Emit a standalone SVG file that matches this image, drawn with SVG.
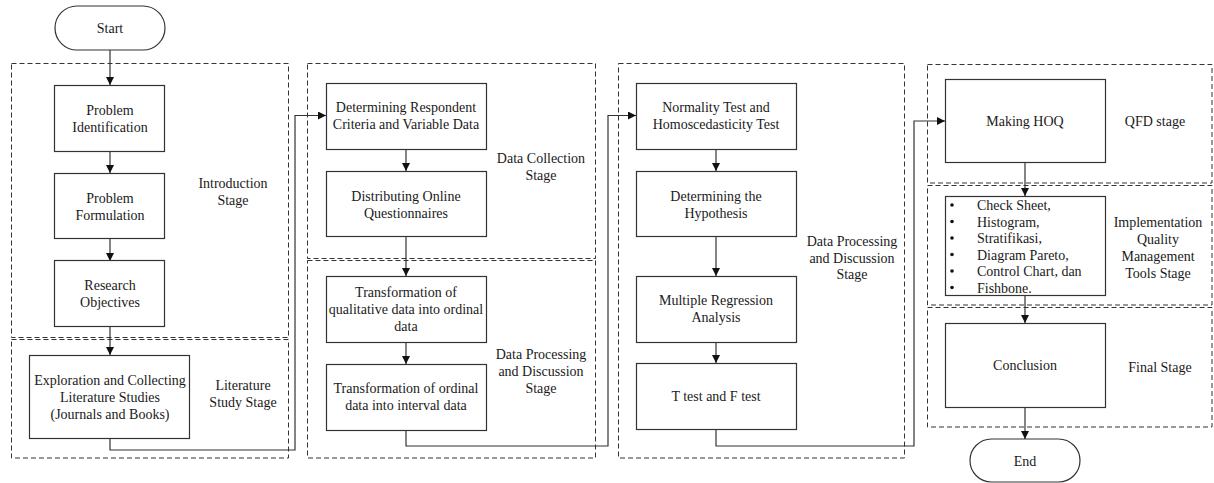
<svg xmlns="http://www.w3.org/2000/svg" width="1214" height="483" viewBox="0 0 1214 483">
<style>
text{font-family:"Liberation Serif","Times New Roman",serif;font-size:14px;fill:#1a1a1a;text-anchor:middle}
.box{fill:#fff;stroke:#333;stroke-width:1.2}
.stage{fill:none;stroke:#333;stroke-width:1;stroke-dasharray:5,3}
.con{fill:none;stroke:#333;stroke-width:1.2}
.arr{marker-end:url(#ah)}
.l{text-anchor:start}
</style>
<defs>
<marker id="ah" viewBox="0 0 10 10" refX="10" refY="5" markerWidth="8" markerHeight="8" markerUnits="userSpaceOnUse" orient="auto">
<path d="M0,0 L10,5 L0,10 z" fill="#111"/>
</marker>
</defs>
<g id="stages">
<rect class="stage" x="11.5" y="63.5" width="277" height="274"/>
<rect class="stage" x="11.5" y="339.5" width="277" height="118.5"/>
<rect class="stage" x="307.5" y="63.5" width="288" height="195"/>
<rect class="stage" x="307.5" y="260.5" width="288" height="197.5"/>
<rect class="stage" x="618.5" y="63.5" width="286" height="394.5"/>
<rect class="stage" x="927.5" y="64.5" width="284.5" height="118.5"/>
<rect class="stage" x="927.5" y="185.5" width="284.5" height="119.5"/>
<rect class="stage" x="927.5" y="307.5" width="284.5" height="119.5"/>
<text x="233" y="188">Introduction</text><text x="233" y="205">Stage</text>
<text x="243" y="390">Literature</text><text x="243" y="407">Study Stage</text>
<text x="541" y="163">Data Collection</text><text x="541" y="180">Stage</text>
<text x="541" y="359">Data Processing</text><text x="541" y="376">and Discussion</text><text x="541" y="393">Stage</text>
<text x="852" y="246">Data Processing</text><text x="852" y="263">and Discussion</text><text x="852" y="279">Stage</text>
<text x="1155" y="126">QFD stage</text>
<text x="1158" y="227">Implementation</text><text x="1158" y="244">Quality</text><text x="1158" y="261">Management</text><text x="1158" y="278">Tools Stage</text>
<text x="1160" y="372">Final Stage</text>
</g>
<g id="connectors">
<path class="con arr" d="M110,50 V85"/>
<path class="con arr" d="M110,151 V173"/>
<path class="con arr" d="M110,238 V261"/>
<path class="con arr" d="M110,326 V355"/>
<path class="con arr" d="M110,438 V450 H295 V115.5 H326"/>
<path class="con arr" d="M406,149 V171"/>
<path class="con arr" d="M406,236 V276"/>
<path class="con arr" d="M406,342 V364"/>
<path class="con arr" d="M406,430 V446 H608 V115.5 H636"/>
<path class="con arr" d="M716,149 V171"/>
<path class="con arr" d="M716,236 V276"/>
<path class="con arr" d="M716,342 V363"/>
<path class="con arr" d="M716,429 V446 H914 V121 H945"/>
<path class="con arr" d="M1025,162 V196"/>
<path class="con arr" d="M1025,295 V323"/>
<path class="con arr" d="M1025,407 V439"/>
</g>
<g id="start"><rect class="box" x="55" y="6" width="110" height="44" rx="22"/><text x="110" y="33">Start</text></g>
<g id="problem-identification"><rect class="box" x="54.5" y="85.5" width="110" height="66"/><text x="110" y="115">Problem</text><text x="110" y="132">Identification</text></g>
<g id="problem-formulation"><rect class="box" x="54.5" y="173.5" width="110" height="65"/><text x="110" y="203">Problem</text><text x="110" y="220">Formulation</text></g>
<g id="research-objectives"><rect class="box" x="54.5" y="260.5" width="110" height="66"/><text x="110" y="290">Research</text><text x="110" y="307">Objectives</text></g>
<g id="exploration"><rect class="box" x="29.5" y="355.5" width="160" height="83"/><text x="110" y="385">Exploration and Collecting</text><text x="110" y="402">Literature Studies</text><text x="110" y="419">(Journals and Books)</text></g>
<g id="determining-respondent"><rect class="box" x="326.5" y="83.5" width="160" height="66"/><text x="406" y="112">Determining Respondent</text><text x="406" y="129">Criteria and Variable Data</text></g>
<g id="distributing"><rect class="box" x="326.5" y="171.5" width="160" height="65"/><text x="406" y="201">Distributing Online</text><text x="406" y="218">Questionnaires</text></g>
<g id="transformation-1"><rect class="box" x="326.5" y="276.5" width="160" height="66"/><text x="406" y="297">Transformation of</text><text x="406" y="314">qualitative data into ordinal</text><text x="406" y="331">data</text></g>
<g id="transformation-2"><rect class="box" x="326.5" y="364.5" width="160" height="66"/><text x="406" y="393">Transformation of ordinal</text><text x="406" y="410">data into interval data</text></g>
<g id="normality"><rect class="box" x="636.5" y="83.5" width="160" height="66"/><text x="716" y="112">Normality Test and</text><text x="716" y="129">Homoscedasticity Test</text></g>
<g id="hypothesis"><rect class="box" x="636.5" y="171.5" width="160" height="65"/><text x="716" y="201">Determining the</text><text x="716" y="218">Hypothesis</text></g>
<g id="regression"><rect class="box" x="636.5" y="276.5" width="160" height="66"/><text x="716" y="305">Multiple Regression</text><text x="716" y="322">Analysis</text></g>
<g id="t-test"><rect class="box" x="636.5" y="363.5" width="160" height="66"/><text x="716" y="401">T test and F test</text></g>
<g id="hoq"><rect class="box" x="945.5" y="79.5" width="160" height="83"/><text x="1025" y="126">Making HOQ</text></g>
<g id="tools"><rect class="box" x="945.5" y="196.5" width="160" height="99"/>
<g fill="#111"><circle cx="952" cy="205" r="1.8"/><circle cx="952" cy="221.5" r="1.8"/><circle cx="952" cy="238" r="1.8"/><circle cx="952" cy="254.5" r="1.8"/><circle cx="952" cy="271" r="1.8"/><circle cx="952" cy="287.5" r="1.8"/></g>
<text class="l" x="977" y="210">Check Sheet,</text><text class="l" x="977" y="226.5">Histogram,</text><text class="l" x="977" y="243">Stratifikasi,</text><text class="l" x="977" y="259.5">Diagram Pareto,</text><text class="l" x="977" y="276">Control Chart, dan</text><text class="l" x="977" y="292.5">Fishbone.</text></g>
<g id="conclusion"><rect class="box" x="945.5" y="323.5" width="160" height="84"/><text x="1025" y="370">Conclusion</text></g>
<g id="end"><rect class="box" x="970" y="439" width="110" height="43" rx="21.5"/><text x="1025" y="466">End</text></g>
</svg>
